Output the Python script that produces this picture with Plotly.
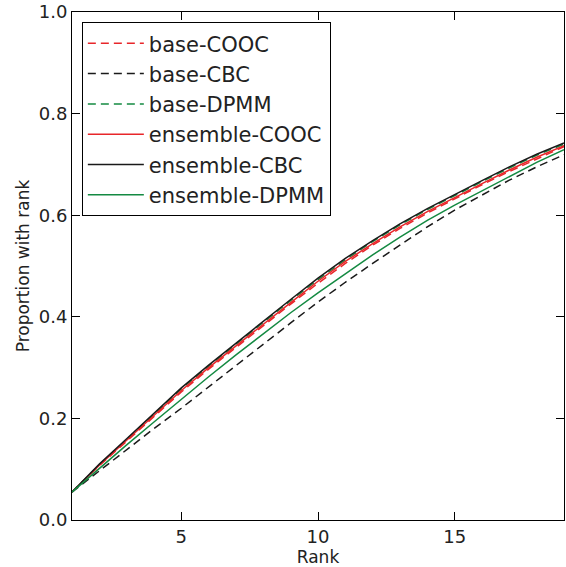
import plotly.graph_objects as go

ranks = list(range(1, 20))

base_cooc = [0.055, 0.107, 0.155, 0.204, 0.252, 0.297, 0.340, 0.383, 0.425, 0.466,
             0.505, 0.541, 0.574, 0.604, 0.632, 0.660, 0.686, 0.711, 0.735]
base_cbc = [0.055, 0.097, 0.139, 0.180, 0.220, 0.262, 0.305, 0.347, 0.388, 0.429,
            0.468, 0.505, 0.541, 0.577, 0.610, 0.640, 0.669, 0.695, 0.719]
base_dpmm = [0.055, 0.109, 0.158, 0.208, 0.258, 0.303, 0.346, 0.390, 0.432, 0.473,
             0.512, 0.548, 0.581, 0.611, 0.639, 0.666, 0.693, 0.718, 0.740]
ens_cooc = [0.055, 0.108, 0.157, 0.206, 0.255, 0.300, 0.343, 0.386, 0.428, 0.470,
            0.509, 0.544, 0.577, 0.607, 0.635, 0.662, 0.689, 0.714, 0.737]
ens_cbc = [0.055, 0.110, 0.160, 0.210, 0.260, 0.305, 0.348, 0.392, 0.434, 0.476,
           0.515, 0.550, 0.583, 0.613, 0.641, 0.668, 0.695, 0.720, 0.742]
ens_dpmm = [0.055, 0.102, 0.148, 0.193, 0.238, 0.282, 0.325, 0.367, 0.408, 0.447,
            0.485, 0.522, 0.557, 0.590, 0.620, 0.648, 0.677, 0.704, 0.729]

RED = "#e8262a"
BLACK = "#1a1a1a"
GREEN = "#148a42"
DASH = "8px,5px"

series = [
    ("base-COOC", base_cooc, RED, DASH),
    ("base-CBC", base_cbc, BLACK, DASH),
    ("base-DPMM", base_dpmm, GREEN, DASH),
    ("ensemble-COOC", ens_cooc, RED, "solid"),
    ("ensemble-CBC", ens_cbc, BLACK, "solid"),
    ("ensemble-DPMM", ens_dpmm, GREEN, "solid"),
]

fig = go.Figure()
for name, vals, color, dash in series:
    fig.add_trace(go.Scatter(
        x=ranks, y=vals, mode="lines", name=name, legendgroup=name,
        line=dict(color=color, width=1.5, dash=dash),
    ))

font = "DejaVu Sans, sans-serif"
axis_common = dict(
    showline=True, linecolor="black", linewidth=1, mirror="ticks",
    ticks="inside", ticklen=8, tickcolor="black", tickwidth=1,
    showgrid=False, zeroline=False, ticklabeloverflow="allow",
    tickfont=dict(family=font, size=18, color="#222"),
)
fig.update_layout(
    width=566, height=567,
    margin=dict(l=72, r=1, t=10, b=47),
    paper_bgcolor="white", plot_bgcolor="white",
    font=dict(family=font, color="#222"),
    xaxis=dict(range=[1, 19], tickvals=[5, 10, 15],
               title=dict(text="Rank", font=dict(family=font, size=17), standoff=1),
               **axis_common),
    yaxis=dict(range=[0, 1], dtick=0.2, tickformat=".1f",
               title=dict(text="Proportion with rank", font=dict(family=font, size=17), standoff=4),
               **axis_common),
    legend=dict(x=0.02, y=0.98, xanchor="left", yanchor="top",
                bordercolor="black", borderwidth=1, bgcolor="white",
                font=dict(family=font, size=21, color="#222"),
                tracegroupgap=0, itemwidth=56),
    showlegend=True,
)

fig.write_html(
    "out.html",
    config={"displayModeBar": False},
    post_script="document.body.style.margin='0';document.body.style.overflow='hidden';",
)
